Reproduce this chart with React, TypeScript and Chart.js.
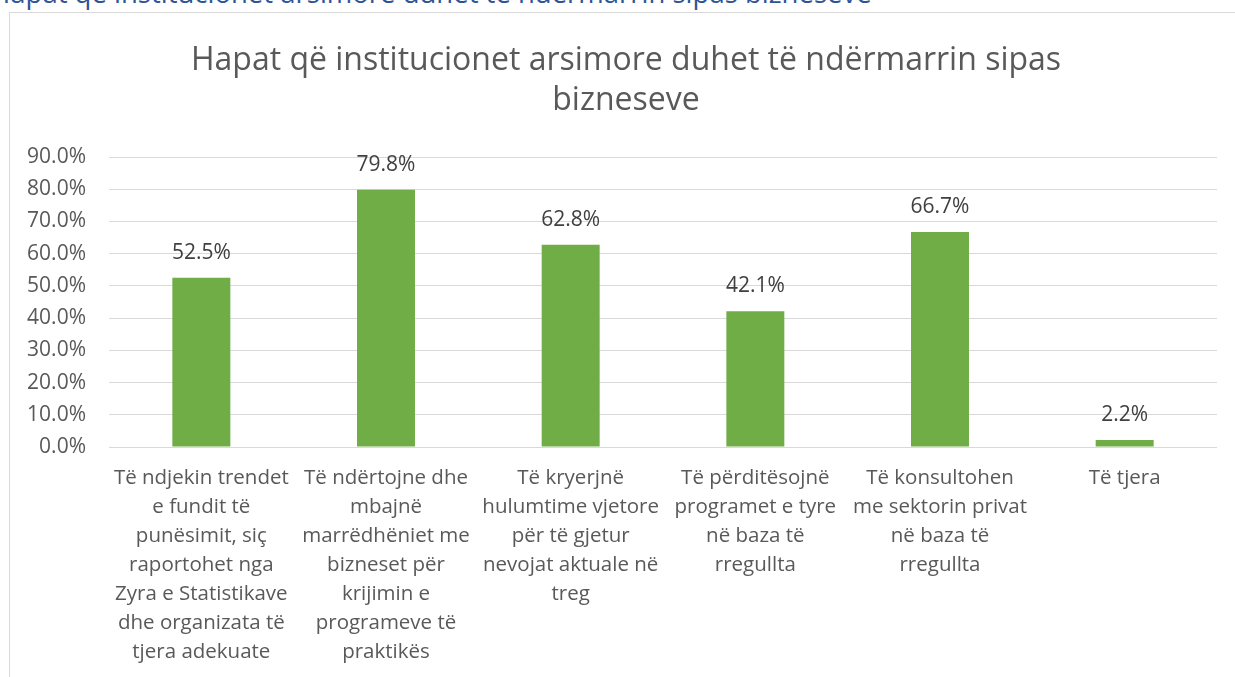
import React, { useEffect, useRef } from "react";
import { Chart, registerables } from "chart.js";

Chart.register(...registerables);

const heading = "Hapat që institucionet arsimore duhet të ndërmarrin sipas bizneseve";
const titleLines = ["Hapat që institucionet arsimore duhet të ndërmarrin sipas", "bizneseve"];

const categories: string[][] = [
  ["Të ndjekin trendet", "e fundit të", "punësimit, siç", "raportohet nga", "Zyra e Statistikave", "dhe organizata të", "tjera adekuate"],
  ["Të ndërtojne dhe", "mbajnë", "marrëdhëniet me", "bizneset për", "krijimin e", "programeve të", "praktikës"],
  ["Të kryerjnë", "hulumtime vjetore", "për të gjetur", "nevojat aktuale në", "treg"],
  ["Të përditësojnë", "programet e tyre", "në baza të", "rregullta"],
  ["Të konsultohen", "me sektorin privat", "në baza të", "rregullta"],
  ["Të tjera"],
];

const values: number[] = [52.5, 79.8, 62.8, 42.1, 66.7, 2.2];

const yMax = 90;
const yStep = 10;

const FONT = "'Open Sans', sans-serif";
const TEXT = "#595959";
const LABEL = "#404040";
const GRID = "#D9D9D9";
const BAR = "#70AD47";

const W = 1235;
const H = 677;

const titlePlugin = {
  id: "frameTitle",
  afterDraw(chart: Chart) {
    const ctx = chart.ctx;
    ctx.save();
    ctx.fillStyle = TEXT;
    ctx.font = `32px ${FONT}`;
    ctx.textAlign = "center";
    ctx.textBaseline = "middle";
    titleLines.forEach((line, i) => ctx.fillText(line, 626, 61 + i * 40));
    ctx.restore();
  },
};

const valueLabels = {
  id: "valueLabels",
  afterDatasetsDraw(chart: Chart) {
    const ctx = chart.ctx;
    const meta = chart.getDatasetMeta(0);
    ctx.save();
    ctx.fillStyle = LABEL;
    ctx.font = `21px ${FONT}`;
    ctx.textAlign = "center";
    ctx.textBaseline = "middle";
    meta.data.forEach((bar: any, i: number) => {
      ctx.fillText(values[i].toFixed(1) + "%", bar.x, bar.y - 25);
    });
    ctx.restore();
  },
};

export default function App() {
  const ref = useRef<HTMLCanvasElement>(null);

  useEffect(() => {
    if (!ref.current) return;
    const chart = new Chart(ref.current, {
      type: "bar",
      data: {
        labels: categories,
        datasets: [
          {
            data: values,
            backgroundColor: BAR,
            barPercentage: 0.314,
            categoryPercentage: 1,
          },
        ],
      },
      options: {
        animation: false,
        responsive: false,
        devicePixelRatio: 1,
        layout: { padding: { left: 0, right: W - 1217, top: 157, bottom: 0 } },
        plugins: {
          legend: { display: false },
          tooltip: { enabled: false },
          title: { display: false },
        },
        scales: {
          x: {
            grid: { display: false, drawTicks: false },
            border: { display: false },
            ticks: {
              color: TEXT,
              font: { family: FONT, size: 20.5, lineHeight: "29px" as any },
              padding: 17,
              maxRotation: 0,
              autoSkip: false,
            },
            afterFit(scale: any) {
              scale.height = H - 447;
            },
          },
          y: {
            min: 0,
            max: yMax,
            grid: { color: GRID, lineWidth: 1, drawTicks: false },
            border: { display: false },
            ticks: {
              stepSize: yStep,
              color: TEXT,
              font: { family: FONT, size: 21 },
              padding: 23,
              callback: (v: any) => Number(v).toFixed(1) + "%",
            },
            afterFit(scale: any) {
              scale.width = 109;
            },
          },
        },
      },
      plugins: [titlePlugin, valueLabels],
    });
    return () => chart.destroy();
  }, []);

  return (
    <div style={{ position: "fixed", left: 0, top: 0, width: W, height: H, overflow: "hidden", background: "#fff" }}>
      <div
        style={{
          position: "absolute",
          left: -10,
          top: -21,
          fontFamily: FONT,
          fontSize: 27.5,
          lineHeight: "27px",
          color: "#2F5496",
          whiteSpace: "nowrap",
        }}
      >
        {heading}
      </div>
      <div
        style={{
          position: "absolute",
          left: 9,
          top: 12,
          width: W + 50,
          height: H + 50,
          border: `1px solid ${GRID}`,
        }}
      />
      <canvas ref={ref} width={W} height={H} style={{ position: "absolute", left: 0, top: 0, width: W, height: H }} />
    </div>
  );
}
